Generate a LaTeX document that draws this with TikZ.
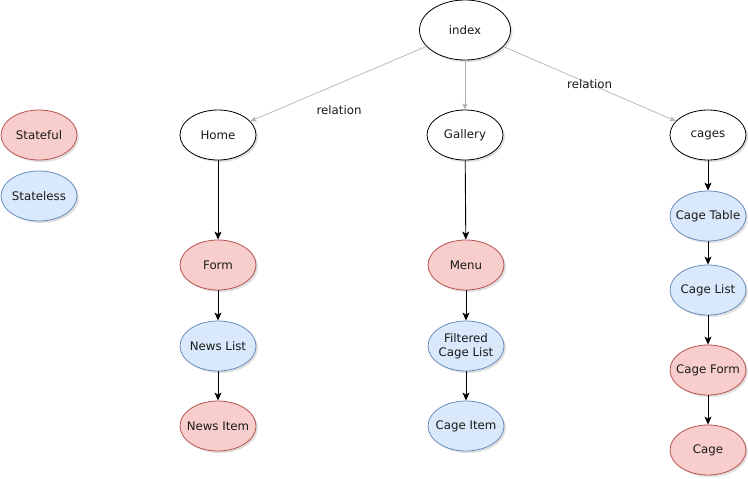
\documentclass[tikz,border=0pt]{standalone}
\usepackage{fontspec}
\setmainfont{DejaVu Sans}
\usetikzlibrary{shapes.geometric}
\usetikzlibrary{arrows.meta}
\usetikzlibrary{shadows}

\definecolor{fullfill}{HTML}{F8CECC}
\definecolor{fullline}{HTML}{B85450}
\definecolor{freefill}{HTML}{DAE8FC}
\definecolor{freeline}{HTML}{6C8EBF}
\definecolor{relgray}{HTML}{B3B3B3}
\definecolor{inktext}{HTML}{1A1A1A}

\begin{document}
\begin{tikzpicture}[x=1pt,y=-1pt,
  font=\fontsize{11.8}{13.5}\selectfont, text=inktext,
  blob/.style={ellipse, draw, line width=0.8pt, inner xsep=-10pt, inner ysep=0pt,
    minimum width=76pt, minimum height=50pt, align=center,
    drop shadow={shadow xshift=2pt, shadow yshift=-2pt, opacity=0.25, fill=gray}},
  pagenode/.style={blob, fill=white, draw=black},
  stateful/.style={blob, fill=fullfill, draw=fullline},
  stateless/.style={blob, fill=freefill, draw=freeline},
  rel/.style={draw=relgray, line width=0.7pt, -{Stealth[length=6pt,width=5pt,inset=1pt]}},
  child/.style={draw=black, line width=0.9pt, -{Stealth[length=8pt,width=7pt,inset=2pt]}}]

\useasboundingbox (0,0) rectangle (748,479);

%legend
\node[stateful] (legfull) at (39,135) {Stateful};
\node[stateless] (legfree) at (39,196) {Stateless};

%pages
\node[pagenode, minimum width=91pt, minimum height=60pt] (index) at (465,30) {index};
\node[pagenode] (home) at (218,135) {Home};
\node[pagenode] (gallery) at (465,135) {Gallery};
\node[pagenode] (cages) at (708,135) {cages};

%home column
\node[stateful] (form) at (218,265) {Form};
\node[stateless] (newslist) at (218,346) {News List};
\node[stateful] (newsitem) at (218,426) {News Item};

%gallery column
\node[stateful] (menu) at (466,265) {Menu};
\node[stateless] (filtered) at (466,346) {Filtered\\Cage List};
\node[stateless] (cageitem) at (466,426) {Cage Item};

%cages column
\node[stateless] (cagetable) at (708,216) {Cage Table};
\node[stateless] (cagelist) at (708,290) {Cage List};
\node[stateful] (cageform) at (708,370) {Cage Form};
\node[stateful] (cage) at (708,450) {Cage};

%relations
\draw[rel] (index) -- (home);
\draw[rel] (index) -- (gallery);
\draw[rel] (index) -- node[pos=0.5] (relright) {relation} (cages);
\node (relleft) at (339,110) {relation};

%children
\draw[child] (home) -- (form);
\draw[child] (form) -- (newslist);
\draw[child] (newslist) -- (newsitem);
\draw[child] (gallery) -- (menu);
\draw[child] (menu) -- (filtered);
\draw[child] (filtered) -- (cageitem);
\draw[child] (cages) -- (cagetable);
\draw[child] (cagetable) -- (cagelist);
\draw[child] (cagelist) -- (cageform);
\draw[child] (cageform) -- (cage);

\end{tikzpicture}
\end{document}
